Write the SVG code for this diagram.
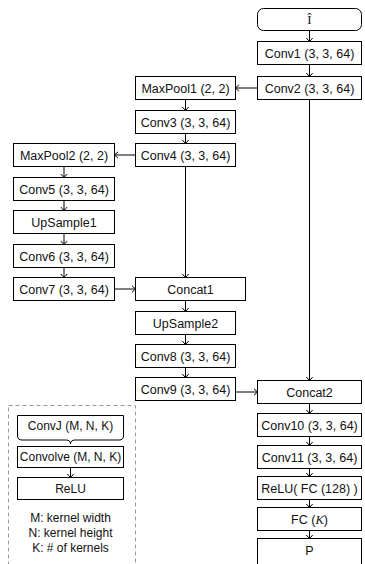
<svg xmlns="http://www.w3.org/2000/svg" width="365" height="564" viewBox="0 0 365 564">
<defs>
<style>
.b{fill:#fff;stroke:#000;stroke-width:1}
.t{font-family:"Liberation Sans",Arial,sans-serif;font-size:12.5px;fill:#111;text-anchor:middle}
.lt{font-family:"Liberation Sans",Arial,sans-serif;font-size:12px;fill:#111;text-anchor:middle}
.c{fill:none;stroke:#000;stroke-width:1;marker-end:url(#a)}
.l{fill:none;stroke:#000;stroke-width:1}
</style>
<marker id="a" viewBox="-5 -5 10 10" refX="0" refY="0" markerWidth="10" markerHeight="10" markerUnits="userSpaceOnUse" orient="auto">
<path d="M-3.5,-3.2 L0,0 L-3.5,3.2" fill="none" stroke="#000" stroke-width="1"/>
</marker>
</defs>
<rect width="365" height="564" fill="#fff"/>
<g id="connectors">
<line class="c" x1="309.5" y1="30.5" x2="309.5" y2="41.5"/>
<line class="c" x1="309.5" y1="64.5" x2="309.5" y2="76.5"/>
<line class="c" x1="257.5" y1="88" x2="235.5" y2="88"/>
<line class="c" x1="185.5" y1="99.5" x2="185.5" y2="110.5"/>
<line class="c" x1="185.5" y1="133.5" x2="185.5" y2="143.5"/>
<line class="c" x1="135.5" y1="155" x2="114.5" y2="155"/>
<line class="c" x1="64" y1="166.5" x2="64" y2="177.5"/>
<line class="c" x1="64" y1="200.5" x2="64" y2="210.5"/>
<line class="c" x1="64" y1="233.5" x2="64" y2="244.5"/>
<line class="c" x1="64" y1="267.5" x2="64" y2="277.5"/>
<line class="c" x1="114.5" y1="289" x2="135.5" y2="289"/>
<line class="c" x1="185.5" y1="166.5" x2="185.5" y2="277.5"/>
<line class="c" x1="185.5" y1="300.5" x2="185.5" y2="311.5"/>
<line class="c" x1="185.5" y1="334.5" x2="185.5" y2="344.5"/>
<line class="c" x1="185.5" y1="367.5" x2="185.5" y2="377.5"/>
<line class="c" x1="235.5" y1="392" x2="257.5" y2="392"/>
<line class="c" x1="309.5" y1="99.5" x2="309.5" y2="380.5"/>
<line class="c" x1="309.5" y1="403.5" x2="309.5" y2="413.5"/>
<line class="c" x1="309.5" y1="436.5" x2="309.5" y2="445.5"/>
<line class="c" x1="309.5" y1="468.5" x2="309.5" y2="476.5"/>
<line class="c" x1="309.5" y1="499.5" x2="309.5" y2="507.5"/>
<line class="c" x1="309.5" y1="530.5" x2="309.5" y2="538.5"/>
</g>
<g id="I"><rect class="b" x="257.5" y="8.5" width="104" height="22" rx="6"/><text x="309.5" y="24" style="font-family:'Liberation Serif','Times New Roman',serif;font-size:13px;text-anchor:middle;fill:#111">Î</text></g>
<g id="conv1"><rect class="b" x="257.5" y="41.5" width="104" height="23"/><text class="t" x="309.5" y="57.5">Conv1 (3, 3, 64)</text></g>
<g id="conv2"><rect class="b" x="257.5" y="76.5" width="104" height="23"/><text class="t" x="309.5" y="92.5">Conv2 (3, 3, 64)</text></g>
<g id="maxpool1"><rect class="b" x="135.5" y="76.5" width="100" height="23"/><text class="t" x="185.5" y="92.5">MaxPool1 (2, 2)</text></g>
<g id="conv3"><rect class="b" x="135.5" y="110.5" width="100" height="23"/><text class="t" x="185.5" y="126.5">Conv3 (3, 3, 64)</text></g>
<g id="conv4"><rect class="b" x="135.5" y="143.5" width="100" height="23"/><text class="t" x="185.5" y="159.5">Conv4 (3, 3, 64)</text></g>
<g id="maxpool2"><rect class="b" x="13.5" y="143.5" width="101" height="23"/><text class="t" x="64" y="159.5">MaxPool2 (2, 2)</text></g>
<g id="conv5"><rect class="b" x="13.5" y="177.5" width="101" height="23"/><text class="t" x="64" y="193.5">Conv5 (3, 3, 64)</text></g>
<g id="upsample1"><rect class="b" x="13.5" y="210.5" width="101" height="23"/><text class="t" x="64" y="226.5">UpSample1</text></g>
<g id="conv6"><rect class="b" x="13.5" y="244.5" width="101" height="23"/><text class="t" x="64" y="260.5">Conv6 (3, 3, 64)</text></g>
<g id="conv7"><rect class="b" x="13.5" y="277.5" width="101" height="23"/><text class="t" x="64" y="293.5">Conv7 (3, 3, 64)</text></g>
<g id="concat1"><rect class="b" x="135.5" y="277.5" width="110" height="23"/><text class="t" x="190.5" y="293.5">Concat1</text></g>
<g id="upsample2"><rect class="b" x="135.5" y="311.5" width="100" height="23"/><text class="t" x="185.5" y="327.5">UpSample2</text></g>
<g id="conv8"><rect class="b" x="135.5" y="344.5" width="100" height="23"/><text class="t" x="185.5" y="360.5">Conv8 (3, 3, 64)</text></g>
<g id="conv9"><rect class="b" x="135.5" y="377.5" width="100" height="23"/><text class="t" x="185.5" y="393.5">Conv9 (3, 3, 64)</text></g>
<g id="concat2"><rect class="b" x="257.5" y="380.5" width="104" height="23"/><text class="t" x="309.5" y="396.5">Concat2</text></g>
<g id="conv10"><rect class="b" x="257.5" y="413.5" width="104" height="23"/><text class="t" x="309.5" y="429.5">Conv10 (3, 3, 64)</text></g>
<g id="conv11"><rect class="b" x="257.5" y="445.5" width="104" height="23"/><text class="t" x="309.5" y="461.5">Conv11 (3, 3, 64)</text></g>
<g id="relufc"><rect class="b" x="257.5" y="476.5" width="104" height="23"/><text class="t" x="309.5" y="492.5">ReLU( FC (128) )</text></g>
<g id="fck"><rect class="b" x="257.5" y="507.5" width="104" height="23"/><text class="t" x="309.5" y="523.5">FC (<tspan style="font-family:'Liberation Serif','Times New Roman',serif;font-style:italic">K</tspan>)</text></g>
<g id="p"><rect class="b" x="257.5" y="538.5" width="104" height="32"/><text class="t" x="309.5" y="554.5">P</text></g>
<g id="legend">
<rect x="8.5" y="405.5" width="127" height="170" fill="none" stroke="#999" stroke-width="1" stroke-dasharray="4,3"/>
<path class="l" d="M17.5,436 V415.5 H123.5 V436"/>
<path class="l" d="M17.5,436 Q17.5,440 22,440 H66 Q70.5,440 70.5,444 Q70.5,440 75,440 H119 Q123.5,440 123.5,436"/>
<text class="lt" x="70.5" y="430">ConvJ (M, N, K)</text>
<rect class="b" x="17.5" y="446.5" width="106" height="21"/>
<text class="lt" x="70.5" y="461">Convolve (M, N, K)</text>
<line class="c" x1="70.5" y1="467.5" x2="70.5" y2="477.5"/>
<rect class="b" x="17.5" y="477.5" width="106" height="22"/>
<text class="lt" x="70.5" y="492.5">ReLU</text>
<text class="lt" x="70.5" y="522">M: kernel width</text>
<text class="lt" x="70.5" y="537">N: kernel height</text>
<text class="lt" x="70.5" y="552">K: # of kernels</text>
</g>
</svg>
